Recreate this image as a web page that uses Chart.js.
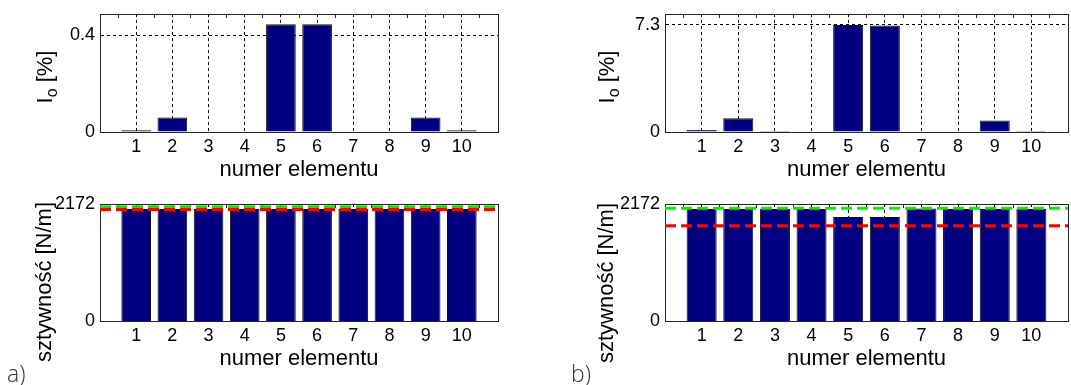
<!DOCTYPE html>
<html>
<head>
<meta charset="utf-8">
<script src="https://cdn.jsdelivr.net/npm/chart.js@4.4.1/dist/chart.umd.min.js"></script>
<style>
html,body{margin:0;padding:0;background:#fff;}
#wrap{position:relative;width:1071px;height:385px;overflow:hidden;background:#fff;}
#wrap canvas{position:absolute;left:0;top:0;}
.ytitle{position:absolute;font-family:'Liberation Sans',Arial,sans-serif;font-size:22px;color:#000;white-space:nowrap;line-height:1;transform:translate(-50%,-50%) rotate(-90deg);}
.ytitle sub{font-size:0.72em;vertical-align:-0.3em;line-height:0;}
.plabel{position:absolute;font-family:'Open Sans',sans-serif;font-weight:300;font-size:23px;color:#333;line-height:22px;}
</style>
</head>
<body>
<div id="wrap">
<canvas id="cA1" width="1071" height="385"></canvas>
<canvas id="cA2" width="1071" height="385"></canvas>
<canvas id="cB1" width="1071" height="385"></canvas>
<canvas id="cB2" width="1071" height="385"></canvas>
<div class="ytitle" style="left:45px;top:77px">I<sub>o</sub> [%]</div>
<div class="ytitle" style="left:44px;top:282px">sztywność [N/m]</div>
<div class="ytitle" style="left:607px;top:77px">I<sub>o</sub> [%]</div>
<div class="ytitle" style="left:606px;top:283px">sztywność [N/m]</div>
<div class="plabel" style="left:7px;top:362px">a)</div>
<div class="plabel" style="left:571px;top:362px">b)</div>
</div>
<script>
// ---- data ----
const categories = [1, 2, 3, 4, 5, 6, 7, 8, 9, 10];
const xRange = [0, 11];
const xTitle = 'numer elementu';

// panel a
const ioA = [0.007, 0.06, 0, 0, 0.445, 0.445, 0, 0, 0.06, 0.007];
const ioTicksA = [0, 0.4];
const ioMaxA = 0.487;
const stiffA = [2080, 2080, 2080, 2080, 2080, 2080, 2080, 2080, 2080, 2080];
const greenA = 2120;
const redA = 2070;

// panel b
const ioB = [0.14, 0.93, 0.06, 0, 7.3, 7.27, 0, 0, 0.79, 0.06];
const ioTicksB = [0, 7.3];
const ioMaxB = 8.05;
const stiffB = [2078, 2078, 2078, 2080, 1932, 1932, 2088, 2080, 2078, 2078];
const greenB = 2095;
const redB = 1770;

const stiffTicks = [0, 2172];
const stiffMax = 2172;

// ---- drawing ----
const FONT = "'Liberation Sans', Arial, sans-serif";
const W = 1071, H = 385, AXW = 60, AXH = 51;
const BORDER = '#262626';

function zeroPad(s) { s.paddingLeft = 0; s.paddingRight = 0; s.paddingTop = 0; s.paddingBottom = 0; }

function panel(id, values, yTicks, yMax, area, lines, yGrid) {
  const datasets = [];
  lines.forEach((ln, i) => {
    datasets.push({
      type: 'line', xAxisID: 'x', yAxisID: 'y',
      data: xRange.map(x => ({x: x, y: ln.value})),
      borderColor: ln.color, borderWidth: 3, borderDash: [11, 5],
      pointRadius: 0, fill: false, order: i
    });
  });
  datasets.push({
    type: 'bar', xAxisID: 'x', yAxisID: 'y',
    data: categories.map((c, i) => ({x: c, y: values[i]})),
    backgroundColor: '#000080', borderColor: '#111111', borderWidth: 1,
    barPercentage: 0.82, categoryPercentage: 1, order: 10
  });
  new Chart(document.getElementById(id), {
    type: 'bar',
    data: {datasets: datasets},
    options: {
      responsive: false, animation: false, events: [],
      layout: {padding: {left: area.left - AXW, right: W - area.right, top: area.top, bottom: H - area.bottom - AXH}},
      plugins: {legend: {display: false}, tooltip: {enabled: false}},
      scales: {
        x: {
          type: 'linear', position: 'bottom', min: xRange[0], max: xRange[1], offset: false,
          afterBuildTicks: s => { s.ticks = categories.map(v => ({value: v})); },
          afterFit: s => { s.height = AXH; zeroPad(s); },
          grid: {display: true, offset: false, color: '#000', lineWidth: 1, drawTicks: false},
          border: {display: true, color: BORDER, width: 1, dash: [3, 3]},
          ticks: {padding: 4, color: '#000', font: {family: FONT, size: 18}, autoSkip: false, maxRotation: 0, callback: v => String(v)},
          title: {display: true, text: xTitle, color: '#000', font: {family: FONT, size: 22}, padding: {top: 0, bottom: 0}}
        },
        y: {
          type: 'linear', position: 'left', min: 0, max: yMax,
          afterBuildTicks: s => { s.ticks = yTicks.map(v => ({value: v})); },
          afterFit: s => { s.width = AXW; zeroPad(s); },
          grid: {display: yGrid, color: '#000', lineWidth: 1, drawTicks: false},
          border: {display: true, color: BORDER, width: 1, dash: [3, 3]},
          ticks: {padding: 5, color: '#000', font: {family: FONT, size: 18}, callback: v => String(v)}
        },
        x2: {
          type: 'linear', position: 'top', min: xRange[0], max: xRange[1], offset: false,
          afterBuildTicks: s => { s.ticks = categories.map(v => ({value: v})); },
          afterFit: s => { s.height = 0; zeroPad(s); },
          grid: {display: true, drawOnChartArea: false, drawTicks: true, tickLength: -4, tickColor: BORDER, tickWidth: 1},
          border: {display: true, color: BORDER, width: 1},
          ticks: {display: false}
        },
        y2: {
          type: 'linear', position: 'right', min: 0, max: 1,
          afterFit: s => { s.width = 0; zeroPad(s); },
          grid: {display: false, drawTicks: false},
          border: {display: true, color: BORDER, width: 1},
          ticks: {display: false}
        }
      }
    }
  });
}

panel('cA1', ioA, ioTicksA, ioMaxA, {left: 100, right: 498, top: 14, bottom: 132}, [], true);
panel('cA2', stiffA, stiffTicks, stiffMax, {left: 100, right: 498, top: 204, bottom: 321},
      [{value: redA, color: '#ff0000'}, {value: greenA, color: '#00f000'}], false);
panel('cB1', ioB, ioTicksB, ioMaxB, {left: 665, right: 1068, top: 14, bottom: 132}, [], true);
panel('cB2', stiffB, stiffTicks, stiffMax, {left: 665, right: 1068, top: 204, bottom: 321},
      [{value: redB, color: '#ff0000'}, {value: greenB, color: '#00f000'}], false);
</script>
</body>
</html>
